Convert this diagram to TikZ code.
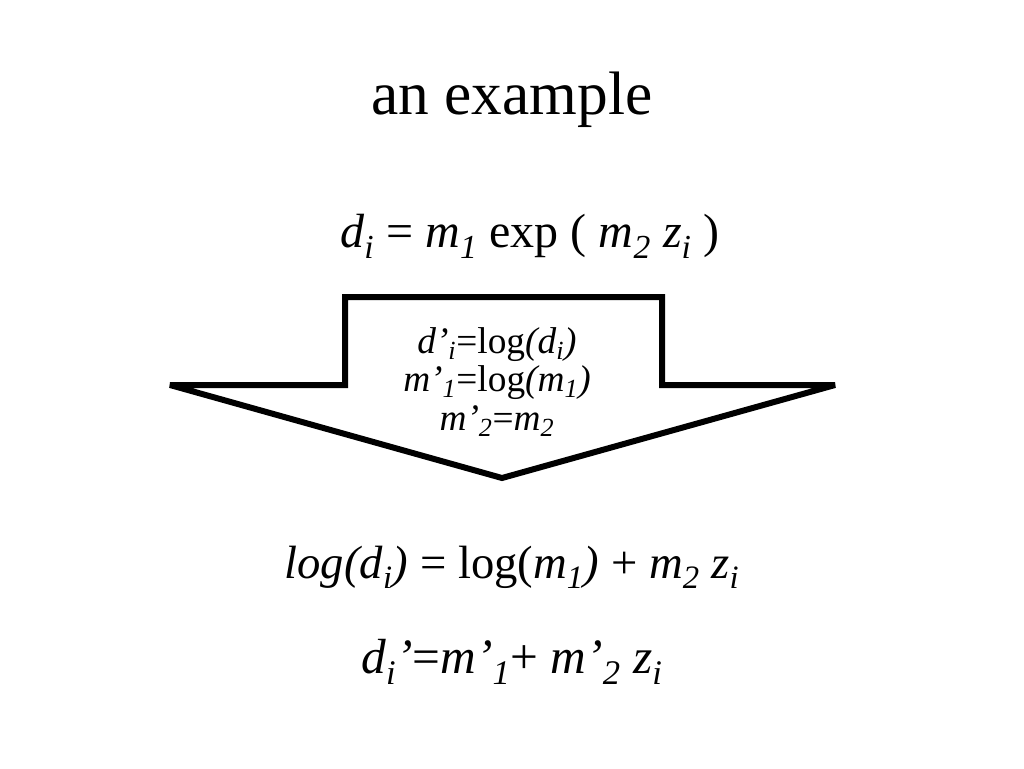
\documentclass[tikz,border=0pt]{standalone}
\usepackage{fontspec}
\setmainfont{Liberation Serif}
\newcommand{\sbs}[1]{\textsubscript{\textit{#1}}}
\begin{document}
\begin{tikzpicture}[x=0.75pt,y=-0.75pt]
\useasboundingbox (0,0) rectangle (1024,768);
\tikzset{txt/.style={inner sep=0pt,anchor=center}}
\node[txt,font=\fontsize{46}{50}\selectfont] (title) at (512,100) {an example};
\node[txt,font=\fontsize{36}{40}\selectfont] (eq1) at (530,236) {\textit{d}\sbs{i} = \textit{m}\sbs{1} exp ( \textit{m}\sbs{2} \textit{z}\sbs{i} )};
\draw[line width=4.5pt,line join=miter,miter limit=4] (345,297) -- (662,297) -- (662,385) -- (835,385) -- (502,478) -- (170,385) -- (345,385) -- cycle;
\node[txt,font=\fontsize{28}{30}\selectfont] (t1) at (497,345) {\textit{d'}\sbs{i}=log\textit{(d}\sbs{i}\textit{)}};
\node[txt,font=\fontsize{28}{30}\selectfont] (t2) at (497,383) {\textit{m'}\sbs{1}=log\textit{(m}\sbs{1}\textit{)}};
\node[txt,font=\fontsize{28}{30}\selectfont] (t3) at (497,421) {\textit{m'}\sbs{2}=\textit{m}\sbs{2}};
\node[txt,font=\fontsize{35}{38}\selectfont] (eq2) at (512,567) {\textit{log(d}\sbs{i}\textit{)} = log(\textit{m}\sbs{1}\textit{)} + \textit{m}\sbs{2} \textit{z}\sbs{i}};
\node[txt,font=\fontsize{37}{40}\selectfont] (eq3) at (512,662) {\textit{d}\sbs{i}\textit{'}=\textit{m'}\sbs{1}+ \textit{m'}\sbs{2} \textit{z}\sbs{i}};
\end{tikzpicture}
\end{document}
